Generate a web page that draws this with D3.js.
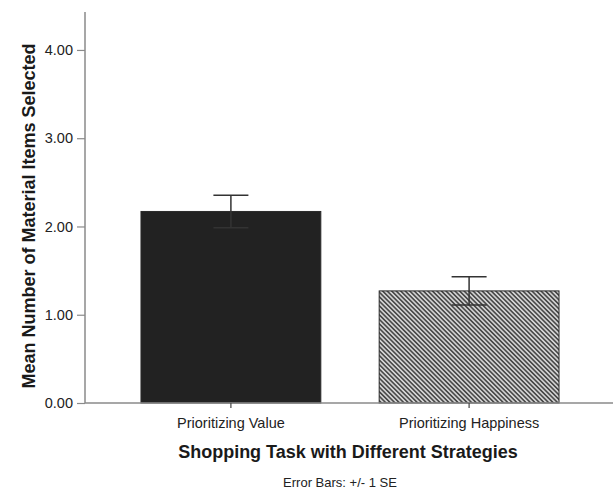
<!DOCTYPE html>
<html>
<head>
<meta charset="utf-8">
<script src="https://cdn.jsdelivr.net/npm/d3@7"></script>
<style>
  html, body { margin: 0; padding: 0; background: #fff; }
  svg { display: block; font-family: "Liberation Sans", Arial, sans-serif; }
</style>
</head>
<body>
<svg id="chart" width="613" height="489"></svg>
<script>
// Strategy groups and their mean counts with standard errors
const categories = ["Prioritizing Value", "Prioritizing Happiness"];
const means = [2.17, 1.27];
const stdErrors = [0.185, 0.16];
const yTicks = [0, 1, 2, 3, 4];

const svg = d3.select("#chart");
const axisColor = "#8a8a8a";
const font = "Liberation Sans, Arial, sans-serif";

const x = d3.scaleBand()
  .domain(categories)
  .range([85, 615])
  .paddingInner(0.245)
  .paddingOuter(0.235);

const y = d3.scaleLinear()
  .domain([0, 4.43])
  .range([403, 12]);

// Diagonal hatch used for the second bar
const defs = svg.append("defs");
const pat = defs.append("pattern")
  .attr("id", "hatch")
  .attr("patternUnits", "userSpaceOnUse")
  .attr("width", 3.2)
  .attr("height", 3.2)
  .attr("patternTransform", "rotate(-45)");
pat.append("rect").attr("width", 3.2).attr("height", 3.2).attr("fill", "#d2d2d2");
pat.append("rect").attr("width", 1.6).attr("height", 3.2).attr("fill", "#4a4a4a");

const fills = ["#222222", "url(#hatch)"];

// Bars
svg.append("g").selectAll("rect")
  .data(categories)
  .join("rect")
  .attr("x", d => x(d))
  .attr("width", x.bandwidth())
  .attr("y", (d, i) => y(means[i]))
  .attr("height", (d, i) => y(0) - y(means[i]))
  .attr("fill", (d, i) => fills[i])
  .attr("stroke", "#2a2a2a")
  .attr("stroke-width", 1);

// Y axis
const yAxis = svg.append("g")
  .attr("transform", "translate(85,0)")
  .call(d3.axisLeft(y).tickValues(yTicks).tickFormat(d3.format(".2f")).tickSize(8).tickPadding(4));
yAxis.select(".domain").remove();
yAxis.append("line")
  .attr("x1", 0).attr("x2", 0)
  .attr("y1", y.range()[1]).attr("y2", y(0))
  .attr("stroke", axisColor).attr("stroke-width", 1.5);
yAxis.selectAll(".tick line").attr("stroke", axisColor).attr("stroke-width", 1.2);
yAxis.selectAll(".tick text")
  .attr("fill", "#222").attr("font-size", 14.5)
  .attr("font-family", font);

// X axis baseline and category ticks
const xAxis = svg.append("g")
  .attr("transform", `translate(0,${y(0)})`)
  .call(d3.axisBottom(x).tickSize(5).tickPadding(9));
xAxis.select(".domain").remove();
xAxis.insert("line", ":first-child")
  .attr("x1", 85).attr("x2", 613)
  .attr("y1", 0).attr("y2", 0)
  .attr("stroke", axisColor).attr("stroke-width", 1.5);
xAxis.selectAll(".tick line").attr("stroke", "#444").attr("stroke-width", 1.2);
xAxis.selectAll(".tick text")
  .attr("fill", "#222").attr("font-size", 14.5)
  .attr("font-family", font)
  .attr("dy", null)
  .attr("y", 25);

// Error bars (+/- 1 SE)
const capHalf = 17.5;
const eb = svg.append("g").attr("stroke", "#333").attr("stroke-width", 1.5);
categories.forEach((c, i) => {
  const cx = x(c) + x.bandwidth() / 2;
  const hi = y(means[i] + stdErrors[i]);
  const lo = y(means[i] - stdErrors[i]);
  eb.append("line").attr("x1", cx).attr("x2", cx).attr("y1", hi).attr("y2", lo);
  eb.append("line").attr("x1", cx - capHalf).attr("x2", cx + capHalf).attr("y1", hi).attr("y2", hi);
  eb.append("line").attr("x1", cx - capHalf).attr("x2", cx + capHalf).attr("y1", lo).attr("y2", lo);
});

// Axis titles
svg.append("text")
  .attr("transform", "translate(35,216) rotate(-90)")
  .attr("text-anchor", "middle")
  .attr("font-weight", "bold")
  .attr("font-size", 18)
  .attr("fill", "#1a1a1a")
  .text("Mean Number of Material Items Selected");

svg.append("text")
  .attr("x", 348).attr("y", 458)
  .attr("text-anchor", "middle")
  .attr("font-weight", "bold")
  .attr("font-size", 18)
  .attr("fill", "#1a1a1a")
  .text("Shopping Task with Different Strategies");

svg.append("text")
  .attr("x", 340).attr("y", 487)
  .attr("text-anchor", "middle")
  .attr("font-size", 13)
  .attr("fill", "#222")
  .text("Error Bars: +/- 1 SE");
</script>
</body>
</html>
